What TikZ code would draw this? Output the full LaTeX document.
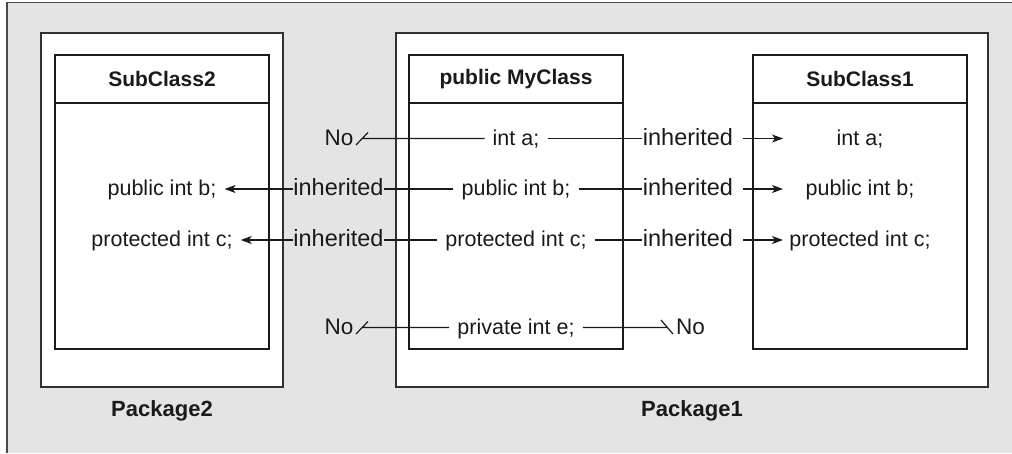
\documentclass[tikz,border=0pt]{standalone}
\usepackage{fontspec}
\setmainfont{Liberation Sans}
\usetikzlibrary{arrows.meta}
\definecolor{panel}{HTML}{E4E4E4}
\definecolor{framecol}{HTML}{4A4A4A}
\definecolor{inkcol}{HTML}{1A1A1A}
\begin{document}
\begin{tikzpicture}[x=1pt,y=-1pt,
  pkgbox/.style={draw=inkcol!90,fill=white,line width=1.3pt,inner sep=0pt,outer sep=0pt,minimum height=354pt},
  classbox/.style={draw=inkcol,fill=white,line width=1.3pt,inner sep=0pt,outer sep=0pt,minimum width=214pt,minimum height=294pt},
  titletext/.style={font=\fontsize{21}{24}\selectfont\bfseries,inner sep=0pt,text=inkcol},
  pkgtext/.style={font=\fontsize{22}{25}\selectfont\bfseries,inner sep=0pt,text=inkcol},
  member/.style={font=\fontsize{21.5}{24}\selectfont,text height=16pt,text depth=3pt,inner xsep=8pt,inner ysep=0pt,text=inkcol},
  inhlabel/.style={font=\fontsize{23.5}{26}\selectfont,text height=16.5pt,text depth=3pt,inner xsep=0.5pt,inner ysep=0pt,text=inkcol},
  nolabel/.style={font=\fontsize{22.5}{26}\selectfont,text height=16.5pt,text depth=3pt,inner xsep=0.5pt,inner ysep=0pt,text=inkcol},
  conn/.style={draw=inkcol,line width=1.2pt},
  arrowconn/.style={conn,-{Stealth[length=11pt,width=8pt,inset=3pt]}},
]
\useasboundingbox (0,0) rectangle (1012,453);
% grey panel
\fill[panel] (0,0) rectangle (1012,453);
\fill[white] (0,0) rectangle (1012,2);
\fill[white] (0,0) rectangle (6,453);
\draw[framecol,line width=1.8pt] (7,453) -- (7,2.5) -- (1012,2.5);

% package boxes
\node[pkgbox,minimum width=242pt] (pkg2) at (162,210) {};
\node[pkgbox,minimum width=592pt] (pkg1) at (692,210) {};
\node[pkgtext] (pkg2l) at (162,411) {Package2};
\node[pkgtext] (pkg1l) at (692,411) {Package1};

% class boxes
\node[classbox] (sc2) at (162,202) {};
\node[classbox] (mc) at (516,202) {};
\node[classbox] (sc1) at (860,202) {};
\foreach \b in {sc2,mc,sc1}
  \draw[conn,line width=1.3pt] ([yshift=-48pt]\b.north west) -- ([yshift=-48pt]\b.north east);
\node[titletext] (sc2t) at (162,79) {SubClass2};
\node[titletext] (mct) at (516,79) {public MyClass};
\node[titletext] (sc1t) at (860,79) {SubClass1};

% rows
\def\ra{138.5}\def\rb{189}\def\rc{240}\def\rd{327.5}

% MyClass members
\node[member] (ma) at (516,\ra) {int a;};
\node[member] (mb) at (516,\rb) {public int b;};
\node[member] (mcc) at (516,\rc) {protected int c;};
\node[member] (me) at (516,\rd) {private int e;};
% SubClass1 members
\node[member] (sa) at (860,\ra) {int a;};
\node[member] (sb) at (860,\rb) {public int b;};
\node[member] (scc) at (860,\rc) {protected int c;};
% SubClass2 members
\node[member] (tb) at (162,\rb) {public int b;};
\node[member] (tc) at (162,\rc) {protected int c;};

% labels
\node[inhlabel] (il2) at (338.5,\rb) {inherited};
\node[inhlabel] (il3) at (338.5,\rc) {inherited};
\node[inhlabel] (ir1) at (688,\ra) {inherited};
\node[inhlabel] (ir2) at (688,\rb) {inherited};
\node[inhlabel] (ir3) at (688,\rc) {inherited};
\node[nolabel] (no1) at (339,\ra) {No};
\node[nolabel] (no4) at (339,\rd) {No};
\node[nolabel] (no5) at (690.5,\rd) {No};

% free ends
\coordinate (s1) at (362,\ra);
\coordinate (s4) at (362,\rd);
\coordinate (s5) at (667,\rd);
\coordinate (a1) at (783,\ra);
\coordinate (a2) at (783,\rb);
\coordinate (a3) at (783,\rc);

% row 1
\draw[conn] (ma.west) -- (s1) ++(-6,6.5) -- ++(12,-12.5);
\draw[conn] (ma.east) -- (ir1.west);
\draw[arrowconn,shorten <=9pt] (ir1.east) -- (a1);
% row 2
\draw[arrowconn] (il2.west) -- (tb.east);
\draw[conn] (mb.west) -- (il2.east);
\draw[conn] (mb.east) -- (ir2.west);
\draw[arrowconn,shorten <=9pt] (ir2.east) -- (a2);
% row 3
\draw[arrowconn] (il3.west) -- (tc.east);
\draw[conn] (mcc.west) -- (il3.east);
\draw[conn] (mcc.east) -- (ir3.west);
\draw[arrowconn,shorten <=9pt] (ir3.east) -- (a3);
% row 4
\draw[conn] (me.west) -- (s4) ++(-6,6.5) -- ++(12,-12.5);
\draw[conn] (me.east) -- (s5) ++(-6,-7.5) -- ++(12,14);
\end{tikzpicture}
\end{document}
